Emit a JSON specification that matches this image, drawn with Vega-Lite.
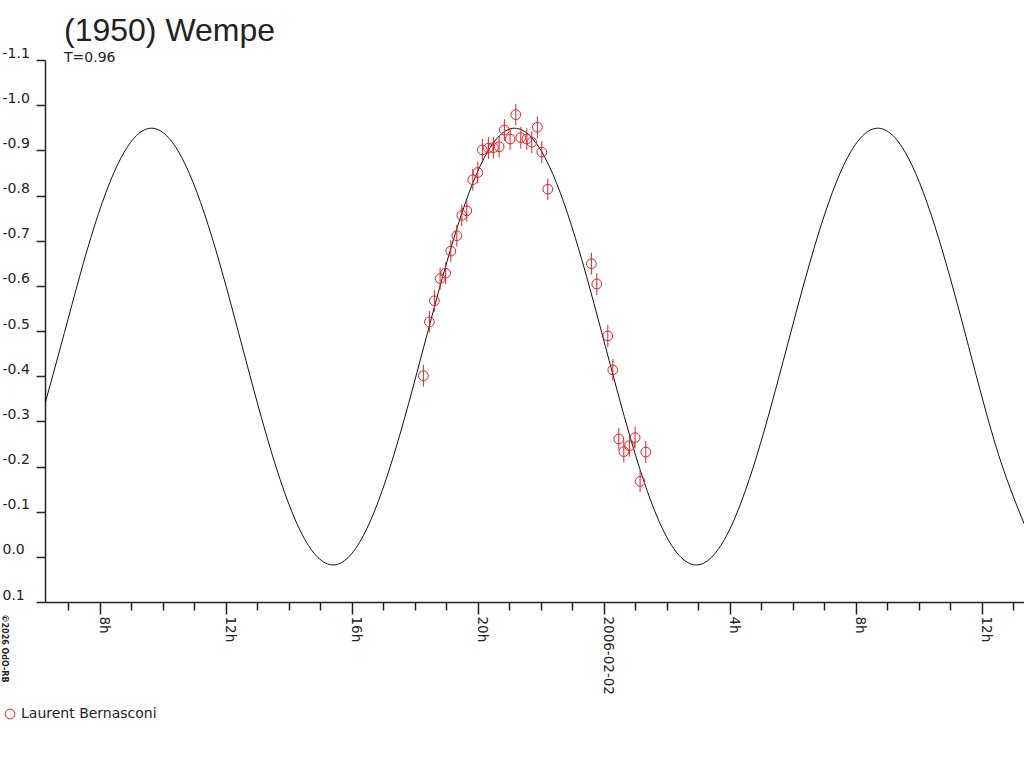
{
  "$schema": "https://vega.github.io/schema/vega-lite/v6.json",
  "width": 979,
  "height": 542,
  "autosize": "none",
  "padding": {"left": 45, "top": 60, "right": 0, "bottom": 166},
  "background": "white",
  "view": {"stroke": null},
  "config": {"font": "DejaVu Sans"},
  "title": {
    "text": "(1950) Wempe",
    "subtitle": "T=0.96",
    "anchor": "start",
    "frame": "group",
    "dx": 19,
    "offset": -20,
    "font": "Liberation Sans",
    "fontSize": 32,
    "fontWeight": "normal",
    "color": "#222222",
    "subtitleFont": "DejaVu Sans",
    "subtitleFontSize": 14,
    "subtitleColor": "#222222",
    "subtitlePadding": 3
  },
  "datasets": {
    "curve": [
      {"t": 5.7967, "mag": -0.2238},
      {"t": 6.7575, "mag": -0.4655},
      {"t": 7.7183, "mag": -0.7073},
      {"t": 8.6792, "mag": -0.8842},
      {"t": 9.64, "mag": -0.949},
      {"t": 10.6008, "mag": -0.8842},
      {"t": 11.5617, "mag": -0.7073},
      {"t": 12.5225, "mag": -0.4655},
      {"t": 13.4833, "mag": -0.2238},
      {"t": 14.4442, "mag": -0.0468},
      {"t": 15.405, "mag": 0.018},
      {"t": 16.3658, "mag": -0.0468},
      {"t": 17.3267, "mag": -0.2238},
      {"t": 18.2875, "mag": -0.4655},
      {"t": 19.2483, "mag": -0.7073},
      {"t": 20.2092, "mag": -0.8842},
      {"t": 21.17, "mag": -0.949},
      {"t": 22.1308, "mag": -0.8842},
      {"t": 23.0917, "mag": -0.7073},
      {"t": 24.0525, "mag": -0.4655},
      {"t": 25.0133, "mag": -0.2238},
      {"t": 25.9742, "mag": -0.0468},
      {"t": 26.935, "mag": 0.018},
      {"t": 27.8958, "mag": -0.0468},
      {"t": 28.8567, "mag": -0.2238},
      {"t": 29.8175, "mag": -0.4655},
      {"t": 30.7783, "mag": -0.7073},
      {"t": 31.7392, "mag": -0.8842},
      {"t": 32.7, "mag": -0.949},
      {"t": 33.6608, "mag": -0.8842},
      {"t": 34.6217, "mag": -0.7073},
      {"t": 35.5825, "mag": -0.4655},
      {"t": 36.5433, "mag": -0.2238},
      {"t": 37.5042, "mag": -0.0468}
    ],
    "obs": [
      {"t": 18.273, "mag": -0.401, "err": 0.024, "observer": "Laurent Bernasconi"},
      {"t": 18.463, "mag": -0.520, "err": 0.024, "observer": "Laurent Bernasconi"},
      {"t": 18.622, "mag": -0.567, "err": 0.024, "observer": "Laurent Bernasconi"},
      {"t": 18.803, "mag": -0.616, "err": 0.024, "observer": "Laurent Bernasconi"},
      {"t": 18.978, "mag": -0.628, "err": 0.024, "observer": "Laurent Bernasconi"},
      {"t": 19.143, "mag": -0.677, "err": 0.024, "observer": "Laurent Bernasconi"},
      {"t": 19.333, "mag": -0.711, "err": 0.024, "observer": "Laurent Bernasconi"},
      {"t": 19.492, "mag": -0.756, "err": 0.024, "observer": "Laurent Bernasconi"},
      {"t": 19.651, "mag": -0.766, "err": 0.024, "observer": "Laurent Bernasconi"},
      {"t": 19.841, "mag": -0.835, "err": 0.024, "observer": "Laurent Bernasconi"},
      {"t": 20.000, "mag": -0.851, "err": 0.024, "observer": "Laurent Bernasconi"},
      {"t": 20.146, "mag": -0.901, "err": 0.024, "observer": "Laurent Bernasconi"},
      {"t": 20.337, "mag": -0.905, "err": 0.024, "observer": "Laurent Bernasconi"},
      {"t": 20.495, "mag": -0.906, "err": 0.024, "observer": "Laurent Bernasconi"},
      {"t": 20.676, "mag": -0.908, "err": 0.024, "observer": "Laurent Bernasconi"},
      {"t": 20.844, "mag": -0.945, "err": 0.024, "observer": "Laurent Bernasconi"},
      {"t": 21.025, "mag": -0.925, "err": 0.024, "observer": "Laurent Bernasconi"},
      {"t": 21.206, "mag": -0.979, "err": 0.024, "observer": "Laurent Bernasconi"},
      {"t": 21.365, "mag": -0.928, "err": 0.024, "observer": "Laurent Bernasconi"},
      {"t": 21.556, "mag": -0.925, "err": 0.024, "observer": "Laurent Bernasconi"},
      {"t": 21.714, "mag": -0.918, "err": 0.024, "observer": "Laurent Bernasconi"},
      {"t": 21.892, "mag": -0.951, "err": 0.024, "observer": "Laurent Bernasconi"},
      {"t": 22.032, "mag": -0.896, "err": 0.024, "observer": "Laurent Bernasconi"},
      {"t": 22.222, "mag": -0.814, "err": 0.024, "observer": "Laurent Bernasconi"},
      {"t": 23.606, "mag": -0.649, "err": 0.024, "observer": "Laurent Bernasconi"},
      {"t": 23.778, "mag": -0.604, "err": 0.024, "observer": "Laurent Bernasconi"},
      {"t": 24.127, "mag": -0.489, "err": 0.024, "observer": "Laurent Bernasconi"},
      {"t": 24.286, "mag": -0.414, "err": 0.024, "observer": "Laurent Bernasconi"},
      {"t": 24.476, "mag": -0.261, "err": 0.024, "observer": "Laurent Bernasconi"},
      {"t": 24.635, "mag": -0.233, "err": 0.024, "observer": "Laurent Bernasconi"},
      {"t": 24.813, "mag": -0.246, "err": 0.024, "observer": "Laurent Bernasconi"},
      {"t": 24.994, "mag": -0.264, "err": 0.024, "observer": "Laurent Bernasconi"},
      {"t": 25.152, "mag": -0.167, "err": 0.024, "observer": "Laurent Bernasconi"},
      {"t": 25.333, "mag": -0.232, "err": 0.024, "observer": "Laurent Bernasconi"}
    ]
  },
  "encoding": {
    "x": {
      "field": "t",
      "type": "quantitative",
      "scale": {"domain": [6.26, 37.34], "nice": false, "zero": false},
      "axis": {
        "title": null,
        "values": [7,8,9,10,11,12,13,14,15,16,17,18,19,20,21,22,23,24,25,26,27,28,29,30,31,32,33,34,35,36,37],
        "labelExpr": "datum.value % 4 == 0 ? (datum.value == 24 ? '2006-02-02' : (datum.value % 24) + 'h') : ''",
        "labelAngle": 90,
        "labelAlign": "left",
        "labelBaseline": "alphabetic",
        "labelPadding": 2,
        "labelFont": "DejaVu Sans",
        "labelFontSize": 13.5,
        "labelColor": "#222222",
        "labelOverlap": false,
        "labelFlush": false,
        "labelBound": false,
        "tickSize": {"condition": {"test": "datum.value % 4 == 0", "value": 12}, "value": 8},
        "tickColor": "#222222",
        "tickWidth": 1.5,
        "domainColor": "#222222",
        "domainWidth": 1.5,
        "grid": false
      }
    },
    "y": {
      "field": "mag",
      "type": "quantitative",
      "scale": {"domain": [-1.1, 0.1], "reverse": true, "nice": false, "zero": false},
      "axis": {
        "title": "©2026 OdO-RB",
        "titleFont": "DejaVu Sans",
        "titleFontSize": 8,
        "titleFontWeight": "bold",
        "titleColor": "#222222",
        "titleAngle": 90,
        "titleAlign": "left",
        "titleBaseline": "alphabetic",
        "titleX": -44,
        "titleY": 554,
        "values": [-1.1,-1.0,-0.9,-0.8,-0.7,-0.6,-0.5,-0.4,-0.3,-0.2,-0.1,0,0.1],
        "labelExpr": "replace(format(datum.value, '.1f'), '\u2212', '-')",
        "labelAlign": "left",
        "labelBaseline": "alphabetic",
        "labelOffset": -3,
        "labelPadding": 34,
        "labelFont": "DejaVu Sans",
        "labelFontSize": 14,
        "labelColor": "#222222",
        "labelOverlap": false,
        "labelFlush": false,
        "labelBound": false,
        "tickSize": 9,
        "tickColor": "#222222",
        "tickWidth": 1.5,
        "domainColor": "#222222",
        "domainWidth": 1.5,
        "grid": false
      }
    }
  },
  "layer": [
    {
      "data": {"name": "curve"},
      "mark": {"type": "line", "color": "#111111", "strokeWidth": 1, "interpolate": "natural", "clip": true}
    },
    {
      "data": {"name": "obs"},
      "mark": {"type": "errorbar", "color": "#e82020", "thickness": 1},
      "encoding": {
        "yError": {"field": "err"}
      }
    },
    {
      "data": {"name": "obs"},
      "mark": {"type": "point", "shape": "circle", "filled": false, "size": 95, "strokeWidth": 1, "opacity": 1},
      "encoding": {
        "color": {
          "field": "observer",
          "type": "nominal",
          "scale": {"range": ["#e82020"]},
          "legend": {
            "title": null,
            "orient": "none",
            "legendX": -42,
            "legendY": 647,
            "symbolType": "circle",
            "symbolSize": 95,
            "symbolStrokeWidth": 1,
            "symbolFillColor": "transparent",
            "labelFont": "DejaVu Sans",
            "labelFontSize": 14,
            "labelColor": "#222222",
            "labelOffset": 4
          }
        }
      }
    }
  ]
}
